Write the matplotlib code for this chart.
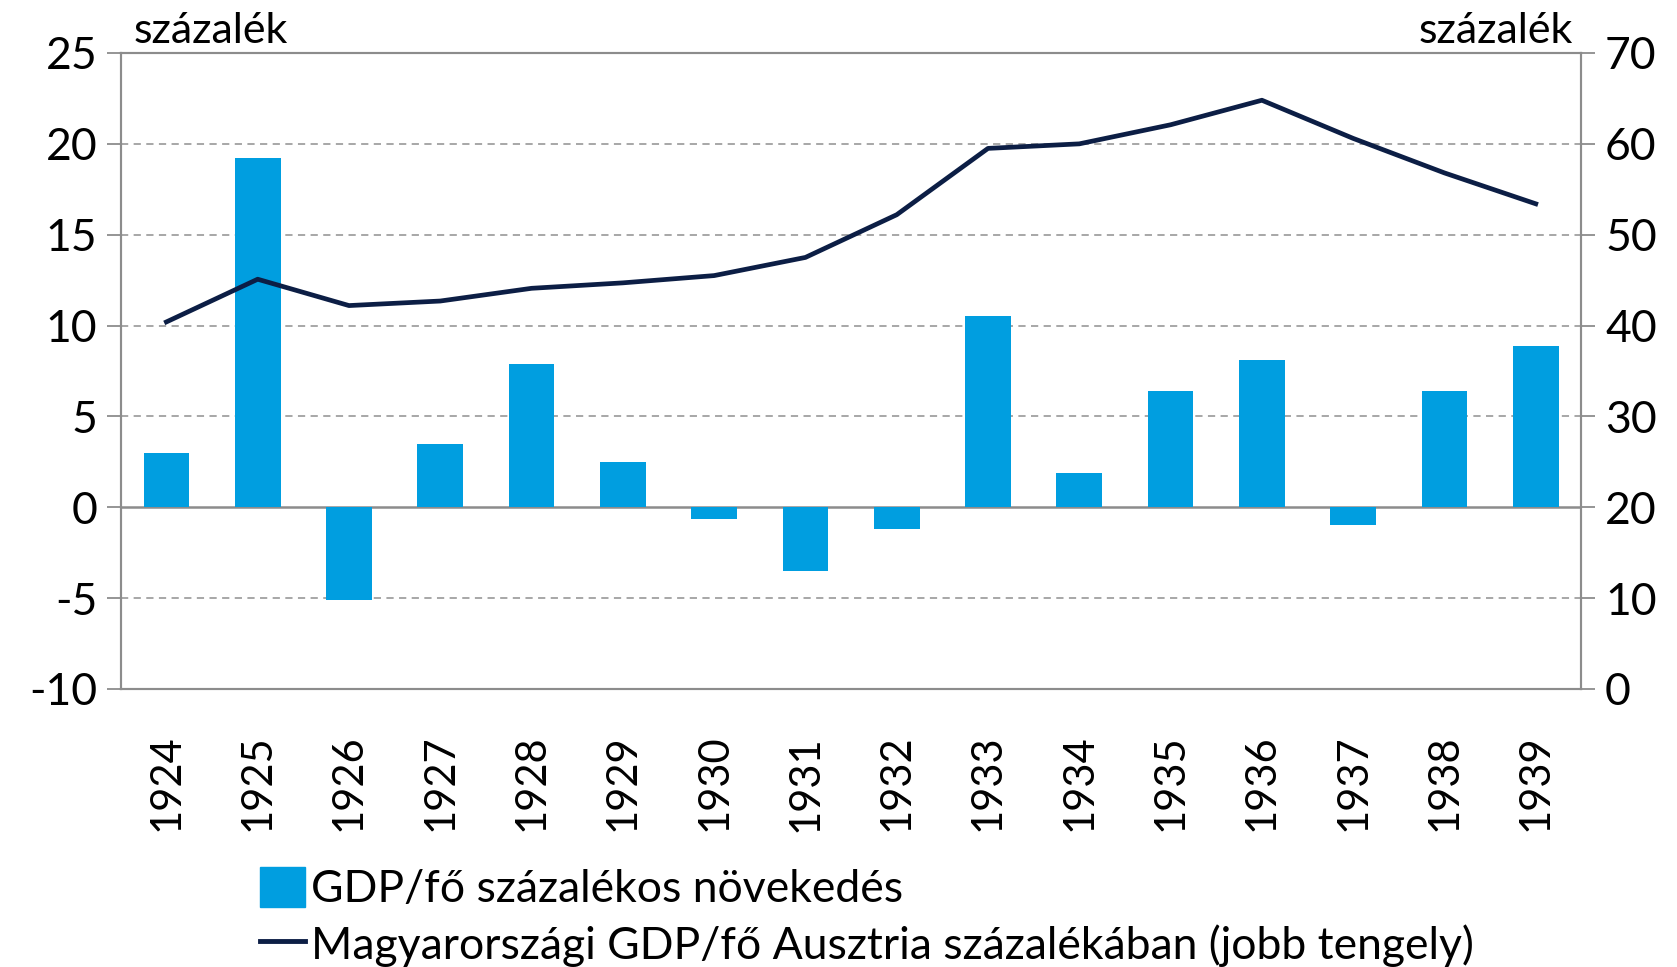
import matplotlib.pyplot as plt
from matplotlib.lines import Line2D
from matplotlib.patches import Patch

plt.rcParams['font.family'] = ['Lato', 'DejaVu Sans']
plt.rcParams['axes.unicode_minus'] = False

# adatok
years = ['1924', '1925', '1926', '1927', '1928', '1929', '1930', '1931',
         '1932', '1933', '1934', '1935', '1936', '1937', '1938', '1939']
growth = [3.0, 19.2, -5.1, 3.5, 7.9, 2.5, -0.65, -3.5,
          -1.2, 10.5, 1.9, 6.4, 8.1, -1.0, 6.4, 8.9]
ratio_austria = [40.4, 45.1, 42.2, 42.7, 44.1, 44.7, 45.5, 47.5,
                 52.2, 59.5, 60.0, 62.1, 64.8, 60.6, 56.8, 53.4]

bar_label = 'GDP/fő százalékos növekedés'
line_label = 'Magyarországi GDP/fő Ausztria százalékában (jobb tengely)'

bar_color = '#009EE0'
line_color = '#0C1E45'
axis_gray = '#8C8C8C'

fig = plt.figure(figsize=(16.77, 9.67), dpi=100)
ax = fig.add_axes([0.072, 0.2875, 0.871, 0.6577])
ax2 = ax.twinx()

x = range(len(years))
ax.bar(x, growth, width=0.5, color=bar_color, zorder=3)
ax2.plot(x, ratio_austria, color=line_color, lw=3.4, zorder=4)

ax.set_xlim(-0.5, len(years) - 0.5)
ax.set_ylim(-10, 25)
ax.set_yticks(range(-10, 26, 5))
ax2.set_ylim(0, 70)
ax2.set_yticks(range(0, 71, 10))

for y in range(-5, 26, 5):
    if y != 0:
        ax.axhline(y, color='#A0A0A0', lw=1.3, ls=(0, (4, 3)), zorder=1)
ax.axhline(0, color=axis_gray, lw=1.8, zorder=2)

ax.set_xticks(list(x))
ax.set_xticklabels(years, rotation=90, fontsize=30)
ax.tick_params(axis='x', length=0, pad=33)
ax.tick_params(axis='y', labelsize=32, length=10, width=1.3, color=axis_gray, pad=7)
ax2.tick_params(axis='y', labelsize=32, length=10, width=1.3, color=axis_gray, pad=7)

for a in (ax, ax2):
    for s in a.spines.values():
        s.set_color(axis_gray)
        s.set_linewidth(1.5)

ax.text(0.009, 1.005, 'százalék', transform=ax.transAxes, fontsize=31,
        ha='left', va='bottom')
ax2.text(0.994, 1.005, 'százalék', transform=ax2.transAxes, fontsize=31,
         ha='right', va='bottom')

handles = [Patch(color=bar_color, label=bar_label),
           Line2D([0], [0], color=line_color, lw=3.5, label=line_label)]
fig.legend(handles=handles, loc='upper left', bbox_to_anchor=(0.142, 0.126),
           frameon=False, fontsize=32, handlelength=1.0, handleheight=1.0,
           handletextpad=0.15, labelspacing=0.3, borderpad=0)

fig.savefig('out.png', dpi=100)
